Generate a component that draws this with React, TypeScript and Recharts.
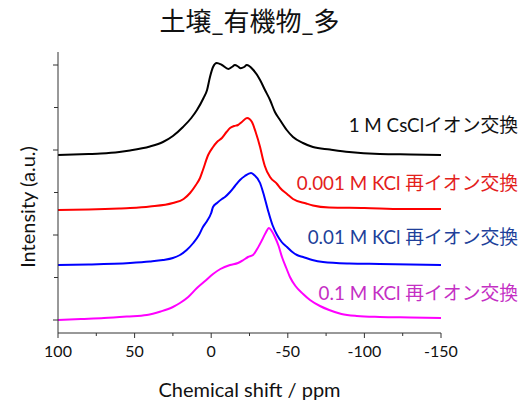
import { LineChart, Line, XAxis, YAxis } from 'recharts';

// chemical shift (ppm) and intensity above each trace's own baseline
const cscPpm = [100, 80, 72, 60, 53, 40, 31.5, 25, 18.4, 13, 9.3, 5, 2.7, 0.8, -1.2, -3.6, -7, -11.2, -13.5, -15.5, -17.5, -19.2, -21.5, -23.2, -27.5, -31.9, -35.1, -38.4, -41.6, -44.9, -49.3, -53.4, -59.9, -66.4, -77.5, -90, -110, -130, -150];
const cscInt = [0, 1, 1.5, 3, 4.5, 8.5, 13, 19, 28, 37, 45, 57, 65, 78, 88, 92, 90, 86, 88, 90, 88.5, 86.7, 88, 90, 85, 75, 65, 55, 43, 35, 25, 18, 12, 8, 5.5, 3, 1, 0.5, 0];

const k001Ppm = [100, 80, 60, 53, 40, 25, 18, 13.8, 10, 7.3, 5.4, 2, -1.2, -3.8, -7, -10, -12.3, -15, -17.5, -20, -23.4, -25, -26.6, -29, -31.9, -33.9, -35, -38.4, -43, -45, -49.5, -53.4, -62, -66.4, -77, -100, -125, -150];
const k001Int = [0, 0.5, 1.5, 2, 3.5, 7, 11, 17, 25, 32, 40, 55, 63, 68, 72, 78, 82, 84, 85, 88, 92, 91, 88, 78, 63, 50, 44, 33, 26, 22, 16, 11, 6.5, 4.5, 2.5, 2, 1, 1];

const k01Ppm = [100, 80, 53, 40, 31.5, 25, 20.4, 16, 11.7, 8, 5.4, 2.7, 0, -1.2, -3.8, -7, -9, -12.3, -15.5, -18.8, -22, -26, -28, -31.9, -34, -37, -40, -43, -46, -49.5, -53, -56, -60, -66, -73, -90, -110, -150];
const k01Int = [0, 0.5, 2, 3.5, 5, 7, 10, 15, 22, 30, 38, 44, 52, 58, 62, 66, 68, 73, 79, 85, 89, 92, 90, 82, 72, 55, 40, 30, 23, 18, 13, 10, 8, 5, 3, 1.5, 1, 0];

const k1Ppm = [100, 85, 70, 55, 42, 33, 25, 20.4, 15, 9.3, 4, -1.2, -6, -12.3, -17.5, -21, -24, -27.3, -30, -33.2, -35.5, -37.7, -39.5, -41.6, -44, -46.2, -49, -51.4, -55, -60, -64.5, -71, -77, -85, -95, -110, -130, -150];
const k1Int = [0, 1, 2, 3.5, 5, 8.5, 13, 17, 23, 32, 39, 46, 51, 55, 57, 60, 63, 65, 71, 80, 87, 92, 89, 83, 74, 63, 52, 43, 34, 26, 20, 14, 10, 6, 4, 3, 2.5, 2];

// stacking offsets, bottom trace first
const offsets = [0, 55, 110, 165];
const xTicks = [100, 75, 50, 25, 0, -25, -50, -75, -100, -125, -150];
const yTicks = [0, 42.5, 85, 127.5, 170, 212.5, 255];

const labels = [
  { text: '1 M CsClイオン交換', color: '#111111', top: 116 },
  { text: '0.001 M KCl 再イオン交換', color: '#e3201b', top: 174 },
  { text: '0.01 M KCl 再イオン交換', color: '#203f9a', top: 228 },
  { text: '0.1 M KCl 再イオン交換', color: '#c42fc4', top: 284 },
];

const series = [
  { ppm: k1Ppm, val: k1Int, color: '#ff00ff', off: offsets[0] },
  { ppm: k01Ppm, val: k01Int, color: '#0000ff', off: offsets[1] },
  { ppm: k001Ppm, val: k001Int, color: '#ff0000', off: offsets[2] },
  { ppm: cscPpm, val: cscInt, color: '#000000', off: offsets[3] },
];

const FONT = "Lato, 'Noto Sans CJK JP', sans-serif";

const XTick = (props: any) => {
  const { x, y, payload } = props;
  const major = payload.value % 50 === 0;
  return (
    <g>
      <line x1={x} x2={x} y1={y} y2={y + (major ? 5 : 3)} stroke="#333" strokeWidth={1} />
      {major && (
        <text x={x} y={y + 24} textAnchor="middle" fontSize={16} fontFamily={FONT} fill="#111">
          {payload.value}
        </text>
      )}
    </g>
  );
};

const YTick = (props: any) => {
  const { x, y, index } = props;
  const major = index % 2 === 0;
  return <line x1={x - (major ? 5 : 4)} x2={x} y1={y} y2={y} stroke="#333" strokeWidth={1} />;
};

export default function App() {
  return (
    <div style={{ position: 'relative', width: 528, height: 403, background: '#fff', fontFamily: FONT }}>
      <style>{`body{margin:0}`}</style>
      <LineChart width={528} height={403} margin={{ top: 52, right: 87, bottom: 0, left: 18 }}>
        <XAxis
          type="number"
          dataKey="x"
          domain={[-150, 100]}
          reversed
          ticks={xTicks}
          interval={0}
          height={70}
          tickSize={0}
          tickMargin={0}
          tickLine={false}
          tick={<XTick />}
          axisLine={{ stroke: '#333', strokeWidth: 1 }}
          allowDataOverflow
        />
        <YAxis
          type="number"
          domain={[-13, 268]}
          ticks={yTicks}
          interval={0}
          width={40}
          tickSize={0}
          tickMargin={0}
          tickLine={false}
          tick={<YTick />}
          axisLine={{ stroke: '#333', strokeWidth: 1 }}
          allowDataOverflow
        />
        {series.map((s, i) => (
          <Line
            key={i}
            data={s.ppm.map((p, j) => ({ x: p, y: s.val[j] + s.off }))}
            dataKey="y"
            type="monotone"
            stroke={s.color}
            strokeWidth={2}
            dot={false}
            isAnimationActive={false}
          />
        ))}
      </LineChart>

      <div style={{ position: 'absolute', left: 0, width: 499, top: 8, textAlign: 'center', fontSize: 26, lineHeight: '26px', color: '#111' }}>
        土壌_有機物_多
      </div>
      <div
        style={{
          position: 'absolute', left: 27, top: 207, transform: 'translate(-50%,-50%) rotate(-90deg)',
          whiteSpace: 'nowrap', fontSize: 20, lineHeight: '20px', color: '#111',
        }}
      >
        Intensity (a.u.)
      </div>
      <div style={{ position: 'absolute', left: 0, width: 499, top: 379, textAlign: 'center', fontSize: 20, lineHeight: '20px', color: '#111' }}>
        Chemical shift / ppm
      </div>
      {labels.map((l) => (
        <div
          key={l.text}
          style={{ position: 'absolute', right: 10, top: l.top, whiteSpace: 'nowrap', fontSize: 18.8, lineHeight: '18px', color: l.color }}
        >
          {l.text}
        </div>
      ))}
    </div>
  );
}
